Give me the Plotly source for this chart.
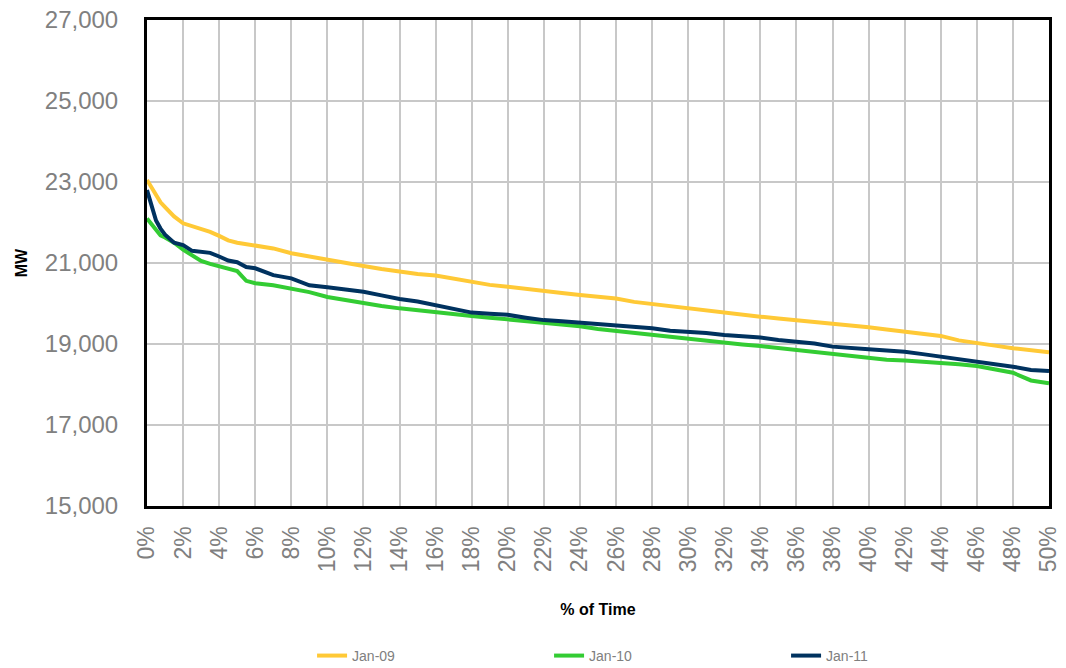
import plotly.graph_objects as go

pct = [0, 0.25, 0.5, 0.75, 1, 1.5, 2, 2.5, 3, 3.5, 4, 4.5, 5, 5.5, 6,
       7, 8, 9, 10, 11, 12, 13, 14, 15, 16, 17, 18, 19, 20, 21, 22, 23, 24,
       25, 26, 27, 28, 29, 30, 31, 32, 33, 34, 35, 36, 37, 38, 39, 40, 41,
       42, 43, 44, 45, 46, 47, 48, 49, 50]

jan09 = [23050, 22850, 22650, 22500, 22380, 22150, 21980, 21910, 21850, 21770,
         21670, 21560, 21500, 21470, 21440, 21360, 21240, 21160, 21060, 21000,
         20925, 20850, 20785, 20730, 20690, 20610, 20540, 20460, 20415, 20370,
         20330, 20260, 20210, 20170, 20125, 20040, 19985, 19930, 19880, 19830,
         19780, 19720, 19675, 19630, 19590, 19540, 19495, 19450, 19415, 19360,
         19305, 19250, 19200, 19090, 19035, 18960, 18895, 18850, 18795]

jan10 = [22100, 21950, 21800, 21680, 21630, 21500, 21330, 21180, 21050, 20980,
         20925, 20870, 20800, 20560, 20500, 20450, 20375, 20280, 20160, 20080,
         20000, 19940, 19880, 19830, 19775, 19730, 19690, 19650, 19610, 19570,
         19530, 19490, 19440, 19370, 19320, 19280, 19240, 19190, 19140, 19090,
         19040, 18990, 18950, 18900, 18850, 18790, 18745, 18690, 18645, 18610,
         18590, 18565, 18545, 18500, 18455, 18380, 18290, 18100, 18030]

jan11 = [22800, 22400, 22050, 21850, 21700, 21500, 21440, 21300, 21280, 21250,
         21160, 21060, 21020, 20900, 20870, 20700, 20620, 20450, 20400, 20350,
         20290, 20200, 20110, 20050, 19960, 19880, 19775, 19750, 19720, 19650,
         19590, 19560, 19530, 19500, 19470, 19420, 19390, 19330, 19305, 19270,
         19225, 19190, 19160, 19100, 19060, 19010, 18935, 18890, 18870, 18840,
         18810, 18750, 18690, 18630, 18565, 18500, 18440, 18360, 18335]

series_names = ["Jan-09", "Jan-10", "Jan-11"]
series_colors = ["#FFC936", "#33CC33", "#00325F"]

x_ticks = list(range(0, 51, 2))
x_tick_labels = [f"{v}%" for v in x_ticks]
y_ticks = list(range(15000, 27001, 2000))

fig = go.Figure()
for name, vals, col in zip(series_names, [jan09, jan10, jan11], series_colors):
    fig.add_trace(go.Scatter(x=pct, y=vals, mode="lines", name=name,
                             line=dict(color=col, width=4)))

fig.update_layout(
    width=1066, height=668,
    margin=dict(l=147, r=17, t=20, b=162, autoexpand=False),
    paper_bgcolor="white", plot_bgcolor="white",
    font=dict(family="Arial, Liberation Sans, sans-serif", color="#808080"),
    showlegend=True,
    legend=dict(orientation="h", x=0.183, xanchor="left", y=-0.3086, yanchor="middle",
                font=dict(size=14, color="#808080"),
                entrywidth=192, entrywidthmode="pixels"),
)
fig.update_xaxes(
    range=[0, 50], tickmode="array", tickvals=x_ticks, ticktext=x_tick_labels,
    tickangle=-90, tickfont=dict(size=23, color="#808080"),
    showgrid=True, gridcolor="#C8C8C8", gridwidth=2,
    showline=True, linecolor="black", linewidth=3, mirror=True,
    zeroline=False, ticks="", ticklabelstandoff=8, ticklabeloverflow="allow",
    title=dict(text="<b>% of Time</b>", font=dict(size=16, color="black"), standoff=33),
)
fig.update_yaxes(
    range=[15000, 27000], tickmode="array", tickvals=y_ticks,
    tickformat=",d", tickfont=dict(size=24, color="#808080"),
    showgrid=True, gridcolor="#C8C8C8", gridwidth=2,
    showline=True, linecolor="black", linewidth=3, mirror=True,
    zeroline=False, ticks="", ticklabelstandoff=21, ticklabeloverflow="allow",
    title=dict(text="<b>MW</b>", font=dict(size=16, color="black"), standoff=14),
)

fig.write_html("out.html",
               config={"displayModeBar": False},
               post_script="document.body.style.margin='0';document.body.style.overflow='hidden';")
